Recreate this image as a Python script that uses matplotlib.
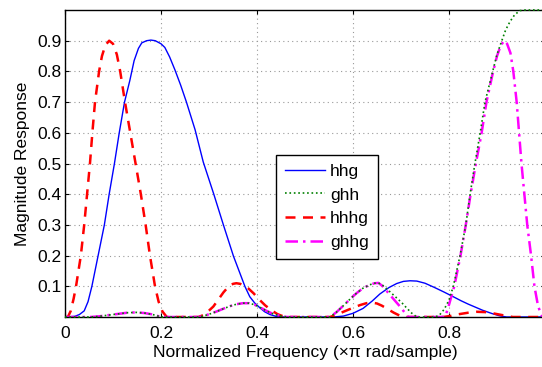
import matplotlib
matplotlib.use('Agg')
import matplotlib.pyplot as plt

plt.rcParams['font.family'] = ['Liberation Sans', 'DejaVu Sans']

# hhg (blue solid)
f_hhg = [0, 0.02, 0.03, 0.04, 0.048, 0.056, 0.069, 0.082, 0.092, 0.103, 0.113,
         0.124, 0.135, 0.144, 0.153, 0.16, 0.17, 0.179, 0.188, 0.2, 0.208,
         0.218, 0.229, 0.241, 0.253, 0.26, 0.271, 0.288, 0.31, 0.33, 0.351, 0.375,
         0.385, 0.395, 0.406, 0.416, 0.427, 0.44, 0.455, 0.5, 0.56, 0.58,
         0.6, 0.621, 0.64, 0.656, 0.675, 0.691, 0.705, 0.719, 0.733, 0.75,
         0.77, 0.79, 0.809, 0.825, 0.84, 0.855, 0.87, 0.89, 0.905, 0.92, 1.0]
m_hhg = [0, 0.002, 0.008, 0.02, 0.05, 0.1, 0.2, 0.3, 0.4, 0.5, 0.6,
         0.7, 0.77, 0.835, 0.875, 0.893, 0.9, 0.902, 0.9, 0.89, 0.878,
         0.847, 0.805, 0.755, 0.70, 0.665, 0.61, 0.505, 0.4, 0.3, 0.198, 0.099,
         0.066, 0.046, 0.03, 0.017, 0.008, 0.002, 0, 0, 0, 0.003,
         0.012, 0.028, 0.052, 0.075, 0.096, 0.109, 0.116, 0.118, 0.117, 0.11,
         0.096, 0.081, 0.066, 0.053, 0.042, 0.032, 0.022, 0.011, 0.004, 0, 0]

# ghh (green dotted)
f_ghh = [0, 0.052, 0.07, 0.09, 0.11, 0.13, 0.149, 0.165, 0.18, 0.19, 0.2,
         0.28, 0.29, 0.302, 0.316, 0.33, 0.345, 0.358, 0.371, 0.383, 0.395,
         0.408, 0.42, 0.432, 0.445, 0.462, 0.552, 0.565, 0.58, 0.595, 0.607,
         0.62, 0.635, 0.645, 0.653, 0.662, 0.675, 0.691, 0.702, 0.712, 0.722,
         0.733, 0.771, 0.78, 0.79, 0.8, 0.809, 0.823, 0.835, 0.844, 0.854,
         0.865, 0.875, 0.891, 0.9, 0.91, 0.918, 0.927, 0.937, 0.948, 0.96,
         0.98, 1.0]
m_ghh = [0, 0, 0.002, 0.006, 0.01, 0.014, 0.015, 0.013, 0.009, 0.005, 0,
         0, 0.004, 0.01, 0.018, 0.027, 0.036, 0.042, 0.045, 0.045, 0.04,
         0.03, 0.02, 0.011, 0.005, 0, 0, 0.015, 0.037, 0.06, 0.077,
         0.093, 0.105, 0.11, 0.111, 0.103, 0.085, 0.062, 0.046, 0.029, 0.013,
         0, 0, 0.006, 0.025, 0.055, 0.1, 0.2, 0.3, 0.4, 0.5,
         0.6, 0.7, 0.8, 0.855, 0.9, 0.935, 0.962, 0.985, 0.998, 1.0,
         1.0, 1.0]

# hhhg (red dashed)
f_hhhg = [0, 0.006, 0.012, 0.018, 0.023, 0.033, 0.040, 0.046, 0.052, 0.057,
          0.0625, 0.071, 0.077, 0.084, 0.092, 0.1, 0.108, 0.115, 0.125, 0.136,
          0.147, 0.158, 0.168, 0.177, 0.1875, 0.195, 0.203, 0.212, 0.278, 0.288,
          0.298, 0.309, 0.32, 0.33, 0.34, 0.35, 0.357, 0.365, 0.373, 0.382,
          0.393, 0.404, 0.417, 0.43, 0.443, 0.455, 0.465, 0.552, 0.565, 0.58,
          0.6, 0.615, 0.628, 0.639, 0.65, 0.66, 0.67, 0.685, 0.698, 0.71,
          0.788, 0.805, 0.82, 0.84, 0.858, 0.875, 0.895, 0.915, 0.933, 1.0]
m_hhhg = [0, 0, 0.02, 0.06, 0.1, 0.2, 0.3, 0.4, 0.5, 0.6,
          0.7, 0.8, 0.85, 0.885, 0.9, 0.89, 0.855, 0.8, 0.7, 0.6,
          0.5, 0.4, 0.3, 0.2, 0.1, 0.05, 0.018, 0, 0, 0.006,
          0.018, 0.034, 0.058, 0.08, 0.098, 0.108, 0.11, 0.108, 0.102, 0.093,
          0.077, 0.058, 0.038, 0.022, 0.009, 0.002, 0, 0, 0.007, 0.017,
          0.03, 0.039, 0.045, 0.047, 0.044, 0.037, 0.028, 0.014, 0.004, 0,
          0, 0.004, 0.009, 0.014, 0.017, 0.016, 0.011, 0.005, 0, 0]

# ghhg (magenta dash-dot)
f_ghhg = [0, 0.052, 0.07, 0.09, 0.11, 0.13, 0.149, 0.165, 0.18, 0.19, 0.2,
          0.28, 0.29, 0.302, 0.316, 0.33, 0.345, 0.358, 0.371, 0.383, 0.395,
          0.408, 0.42, 0.432, 0.445, 0.462, 0.552, 0.565, 0.58, 0.595, 0.607,
          0.62, 0.635, 0.645, 0.653, 0.662, 0.67, 0.677, 0.688, 0.698, 0.707,
          0.715, 0.792, 0.8, 0.811, 0.824, 0.835, 0.845, 0.856, 0.868, 0.878,
          0.892, 0.9, 0.908, 0.915, 0.921, 0.928, 0.934, 0.941, 0.946, 0.951,
          0.957, 0.963, 0.971, 0.978, 0.985, 0.991, 0.995, 1.0]
m_ghhg = [0, 0, 0.002, 0.006, 0.01, 0.014, 0.015, 0.013, 0.009, 0.005, 0,
          0, 0.004, 0.01, 0.018, 0.027, 0.036, 0.042, 0.045, 0.045, 0.04,
          0.03, 0.02, 0.011, 0.005, 0, 0, 0.015, 0.037, 0.06, 0.077,
          0.093, 0.105, 0.11, 0.111, 0.1, 0.085, 0.072, 0.052, 0.034, 0.016,
          0, 0, 0.04, 0.1, 0.2, 0.3, 0.4, 0.5, 0.6, 0.7,
          0.8, 0.85, 0.885, 0.9, 0.89, 0.86, 0.8, 0.7, 0.6, 0.5,
          0.4, 0.3, 0.2, 0.1, 0.04, 0.01, 0, 0]

xticks = [0, 0.2, 0.4, 0.6, 0.8, 1.0]
xticklabels = ['0', '0.2', '0.4', '0.6', '0.8', '']
yticks = [0.1, 0.2, 0.3, 0.4, 0.5, 0.6, 0.7, 0.8, 0.9]

fig = plt.figure(figsize=(5.42, 3.67), dpi=100)
ax = fig.add_axes([65 / 542, 50 / 367, 480 / 542, 307 / 367])

ax.plot(f_hhg, m_hhg, '-', color='#0000ff', lw=1.0, label='hhg')
ax.plot(f_ghh, m_ghh, ':', color='#008000', lw=1.2, label='ghh',
        clip_on=False, zorder=3)
ax.plot(f_hhhg, m_hhhg, '--', color='#ff0000', lw=1.8, dashes=(4, 3), label='hhhg')
ax.plot(f_ghhg, m_ghhg, '-.', color='#ff00ff', lw=1.8, dashes=(5, 2, 1, 2), label='ghhg')

ax.set_xlim(0, 1)
ax.set_ylim(0, 1)
ax.set_xticks(xticks)
ax.set_xticklabels(xticklabels)
ax.set_yticks(yticks)
ax.tick_params(direction='in', labelsize=12.5, length=3, top=True, right=True)
ax.tick_params(axis='x', pad=6.5)
ax.tick_params(axis='y', pad=2.5)
ax.grid(True, linestyle=(0, (1, 3)), color='#999999', lw=0.8)
for s in ax.spines.values():
    s.set_linewidth(1.0)

ax.set_xlabel('Normalized Frequency (\u00d7\u03c0 rad/sample)', fontsize=12.5, labelpad=2.5)
ax.set_ylabel('Magnitude Response', fontsize=12.5, labelpad=5)

leg = ax.legend(loc='upper left', bbox_to_anchor=(0.44, 0.528), fontsize=12.5,
                fancybox=False, framealpha=1, edgecolor='black',
                handlelength=2.3, handletextpad=0.3, borderpad=0.5,
                labelspacing=0.5, borderaxespad=0)
leg.get_frame().set_linewidth(1.0)
leg.set_zorder(5)

fig.savefig('out.png', dpi=100)
